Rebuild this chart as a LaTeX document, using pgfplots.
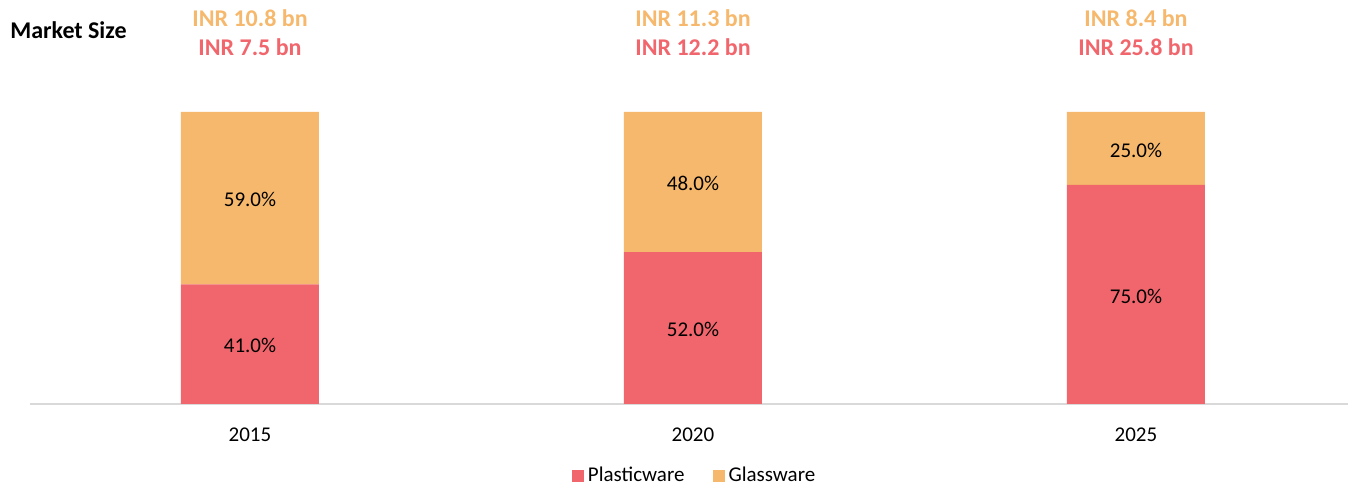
\documentclass[border=0pt]{standalone}
\usepackage{pgfplots}
\pgfplotsset{compat=1.18}
\usepackage{fontspec}
\setmainfont{Carlito}

\definecolor{plastic}{HTML}{F1666D}
\definecolor{glass}{HTML}{F6B86C}
\definecolor{axisgray}{HTML}{D9D9D9}

\pgfplotsset{
  base/.style={
    scale only axis,
    width=659pt, height=146pt,
    xmin=-0.4966, xmax=2.4786,
    ymin=0, ymax=100,
    clip=false,
    font=\fontsize{10.5}{12}\selectfont,
  }
}

\begin{document}
\begin{tikzpicture}
\begin{axis}[
  base,
  ybar stacked,
  bar width=69pt,
  axis y line=none,
  axis x line*=bottom,
  x axis line style={draw=axisgray, line width=0.8pt, -},
  xtick={0,1,2},
  xticklabels={2015,2020,2025},
  major tick length=0pt,
  xticklabel style={yshift=-8.5pt},
  legend style={at={(0.505,0)}, anchor=center, yshift=-36pt, draw=none,
    legend columns=2, font=\fontsize{10.5}{12}\selectfont,
    /tikz/every even column/.append style={column sep=12pt}},
  legend image code/.code={\fill[#1] (0pt,-3pt) rectangle (6pt,3pt);},
]
\addplot[fill=plastic, draw=none] coordinates {(0,41) (1,52) (2,75)};
\addplot[fill=glass, draw=none] coordinates {(0,59) (1,48) (2,25)};
\legend{Plasticware, Glassware}
\end{axis}

\begin{axis}[
  base,
  axis lines=none,
  nodes near coords,
  point meta=explicit symbolic,
  every node near coord/.append style={anchor=center},
]
% segment labels
\addplot[only marks, mark=none] coordinates {
  (0,20)[41.0\%] (1,25.5)[52.0\%] (2,37)[75.0\%]
  (0,70)[59.0\%] (1,75.5)[48.0\%] (2,87)[25.0\%]};
% market size labels
\addplot[only marks, mark=none,
  every node near coord/.append style={text=glass, font=\fontsize{12}{14}\selectfont\bfseries}]
  coordinates {(0,132)[INR 10.8 bn] (1,132)[INR 11.3 bn] (2,132)[INR 8.4 bn]};
\addplot[only marks, mark=none,
  every node near coord/.append style={text=plastic, font=\fontsize{12}{14}\selectfont\bfseries}]
  coordinates {(0,122.1)[INR 7.5 bn] (1,122.1)[INR 12.2 bn] (2,122.1)[INR 25.8 bn]};
\node[anchor=west, inner sep=0pt, font=\fontsize{12}{14}\selectfont\bfseries]
  at (axis cs:-0.542,127.9) {Market Size};
\end{axis}

\path (current axis.south west) ++(-15pt,-41.5pt) coordinate (bl);
\path (current axis.north east) ++(7pt,56pt) coordinate (tr);
\path[use as bounding box] (bl) rectangle (tr);
\end{tikzpicture}
\end{document}
